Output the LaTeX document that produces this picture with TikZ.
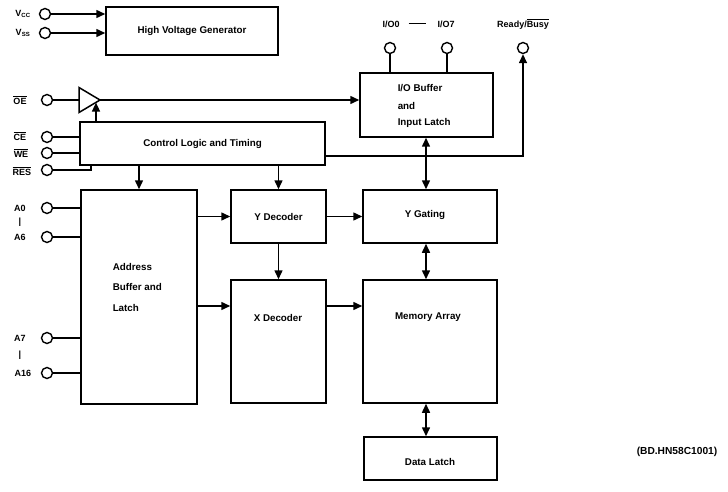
\documentclass[tikz,border=0pt]{standalone}
\usepackage{fontspec}
\setmainfont{Liberation Sans}
\usetikzlibrary{arrows.meta}
\begin{document}
\begin{tikzpicture}[x=1pt,y=-1pt,line width=1.5pt,
  blk/.style={draw,rectangle,inner sep=0pt,font=\fontsize{9.8}{11}\selectfont\bfseries},
  txt/.style={inner sep=0pt,font=\fontsize{9.8}{11}\selectfont\bfseries},
  pinc/.style={draw,circle,minimum size=11pt,inner sep=0pt,line width=1.4pt,fill=white},
  plab/.style={inner sep=0pt,font=\fontsize{9}{10}\selectfont\bfseries},
  arr/.style={-{Triangle[length=9pt,width=8pt]}},
  darr/.style={{Triangle[length=9pt,width=8pt]}-{Triangle[length=9pt,width=8pt]}}]
\useasboundingbox (0,0) rectangle (728,492);
% blocks
\node[blk,minimum width=172pt,minimum height=48pt] (hv) at (192,31) {High Voltage Generator};
\node[blk,minimum width=245pt,minimum height=43pt] (ctl) at (202.5,143.5) {Control Logic and Timing};
\node[blk,minimum width=133pt,minimum height=64pt] (io) at (426.5,105) {};
\node[blk,minimum width=116pt,minimum height=214pt] (addr) at (139,297) {};
\node[blk,minimum width=95pt,minimum height=53pt] (ydec) at (278.5,216.5) {Y Decoder};
\node[blk,minimum width=95pt,minimum height=123pt] (xdec) at (278.5,341.5) {};
\node[blk,minimum width=134pt,minimum height=53pt] (yg) at (430,216.5) {};
\node[blk,minimum width=134pt,minimum height=123pt] (mem) at (430,341.5) {};
\node[blk,minimum width=133pt,minimum height=43pt] (dl) at (430.5,458.5) {};
% texts inside blocks
\node[txt,anchor=west] (iot1) at (397,88) {I/O Buffer};
\node[txt,anchor=west] (iot2) at (397,106) {and};
\node[txt,anchor=west] (iot3) at (397,123) {Input Latch};
\node[txt,anchor=west] (adt1) at (112,267) {Address};
\node[txt,anchor=west] (adt2) at (112,287) {Buffer and};
\node[txt,anchor=west] (adt3) at (112,308) {Latch};
\node[txt] (xdt) at (278,318) {X Decoder};
\node[txt] (ygt) at (425,215) {Y Gating};
\node[txt] (memt) at (428,317) {Memory Array};
\node[txt] (dlt) at (430,462) {Data Latch};
\node[inner sep=0pt,font=\fontsize{10.2}{12}\selectfont\bfseries] (ref) at (677,452) {(BD.HN58C1001)};
% pins
\node[pinc] (vcc) at (45,14) {};
\node[pinc] (vss) at (45,33) {};
\node[pinc] (oe) at (47,100) {};
\node[pinc] (ce) at (47,137) {};
\node[pinc] (we) at (47,153) {};
\node[pinc] (res) at (47,170) {};
\node[pinc] (a0) at (47,208) {};
\node[pinc] (a6) at (47,237) {};
\node[pinc] (a7) at (47,338) {};
\node[pinc] (a16) at (47,373) {};
\node[pinc] (io0) at (390,48) {};
\node[pinc] (io7) at (447,48) {};
\node[pinc] (rb) at (523,48) {};
% pin labels
\node[plab] (lvcc) at (23,14) {V\textsubscript{CC}};
\node[plab] (lvss) at (23,33) {V\textsubscript{SS}};
\node[plab] (loe) at (20,100) {$\overline{\mbox{OE}}$};
\node[plab] (lce) at (20,136) {$\overline{\mbox{CE}}$};
\node[plab] (lwe) at (21,153) {$\overline{\mbox{WE}}$};
\node[plab] (lres) at (22,171) {$\overline{\mbox{RES}}$};
\node[plab] (la0) at (20,208) {A0};
\node[plab] (lb1) at (20,222) {|};
\node[plab] (la6) at (20,237) {A6};
\node[plab] (la7) at (20,338) {A7};
\node[plab] (lb2) at (20,355) {|};
\node[plab] (la16) at (23,373) {A16};
\node[plab] (lio0) at (391,24) {I/O0};
\node[plab] (ldash) at (417,24) {\rule[0.3ex]{17pt}{1.3pt}};
\node[plab] (lio7) at (446,24) {I/O7};
\node[plab] (lrb) at (523,24) {Ready/$\overline{\mbox{Busy}}$};
% buffer triangle
\coordinate (bufL) at (79,100);
\coordinate (buf) at (100,100);
\coordinate (bufin) at (96,102.6);
\draw (79,87.5) -- (buf) -- (79,112.5) -- cycle;
% helper coordinates
\coordinate (resx) at (91,165);
\coordinate (rby) at (0,156);
\coordinate (r2) at (0,306);
\coordinate (col) at (426,0);
% connectors
\draw[arr] (vcc) -- (vcc -| hv.west);
\draw[arr] (vss) -- (vss -| hv.west);
\draw (oe) -- (bufL);
\draw[arr] (ctl.north -| bufin) -- (bufin);
\draw[arr] (buf) -- (io.west |- buf);
\draw (ce) -- (ce -| ctl.west);
\draw (we) -- (we -| ctl.west);
\draw (res) -| (resx);
\draw (a0) -- (a0 -| addr.west);
\draw (a6) -- (a6 -| addr.west);
\draw (a7) -- (a7 -| addr.west);
\draw (a16) -- (a16 -| addr.west);
\draw (io0) -- (io0 |- io.north);
\draw (io7) -- (io7 |- io.north);
\draw[arr] (ctl.east |- rby) -| (rb);
\draw[arr] (addr.north |- ctl.south) -- (addr.north);
\draw[arr] (ydec.north |- ctl.south) -- (ydec.north);
\draw[arr] (addr.east |- ydec.west) -- (ydec.west);
\draw[arr] (addr.east |- r2) -- (xdec.west |- r2);
\draw[arr] (ydec.south) -- (xdec.north);
\draw[arr] (ydec.east) -- (yg.west |- ydec.east);
\draw[arr] (xdec.east |- r2) -- (mem.west |- r2);
\draw[darr] (io.south -| col) -- (yg.north -| col);
\draw[darr] (yg.south -| col) -- (mem.north -| col);
\draw[darr] (mem.south -| col) -- (dl.north -| col);
\end{tikzpicture}
\end{document}
